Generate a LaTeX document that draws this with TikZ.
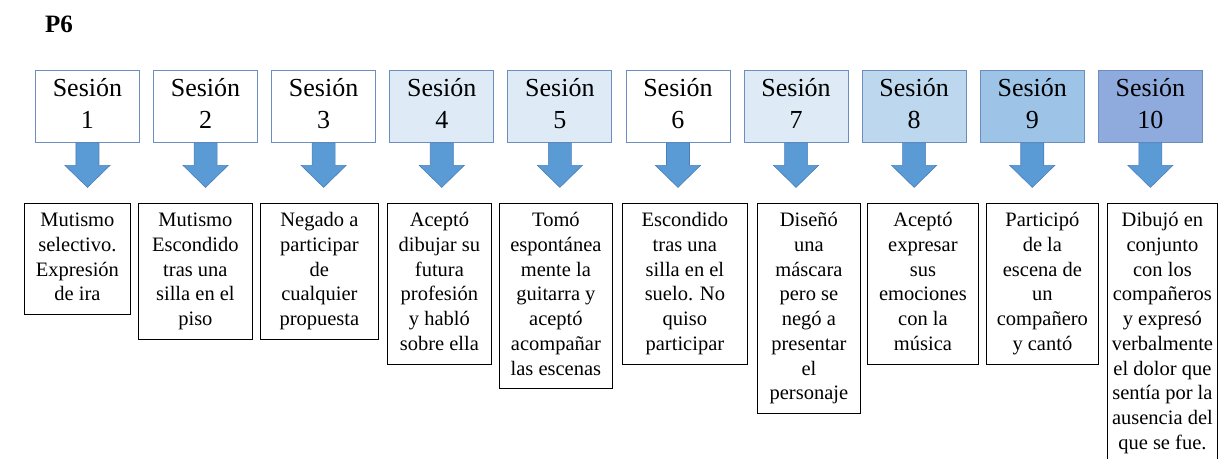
\documentclass[tikz,border=0pt]{standalone}
\usepackage{fontspec}
\setmainfont{Liberation Serif}
\usetikzlibrary{calc}
\definecolor{c0}{HTML}{FFFFFF}
\definecolor{c1}{HTML}{DEEBF7}
\definecolor{c2}{HTML}{BDD7EE}
\definecolor{c3}{HTML}{9DC3E6}
\definecolor{c4}{HTML}{8FAADC}
\definecolor{tb}{HTML}{6C8EBF}
\definecolor{af}{HTML}{5B9BD5}
\definecolor{ad}{HTML}{4A7EBB}
\tikzset{
  sesbox/.style={draw=tb, line width=0.9pt, minimum width=104pt, align=center,
    inner xsep=2pt, inner ysep=4pt, font=\fontsize{26}{32}\selectfont, anchor=north west},
  descbox/.style={draw=black, line width=0.8pt, align=center, inner xsep=2pt,
    inner ysep=6pt, font=\fontsize{20.5}{24.75}\selectfont, anchor=north west},
  barrow/.style={fill=af, draw=ad, line width=0.6pt},
  titlestyle/.style={anchor=base west, inner sep=0pt, font=\bfseries\fontsize{25}{30}\selectfont}
}
\begin{document}
\begin{tikzpicture}[x=1pt,y=-1pt]
\useasboundingbox (0,0) rectangle (1230,458);
\node[titlestyle] (title) at (45,32) {P6};
% top session boxes
\foreach \i/\c [count=\k from 0] in {1/c0,2/c0,3/c0,4/c1,5/c1,6/c0,7/c1,8/c2,9/c3,10/c4}{
  \node[sesbox, fill=\c] (t\i) at ({35+118.1*\k},69.5) {\strut Sesión\\ \i\strut};
}
% block arrows
\foreach \i in {1,...,10}{
  \draw[barrow] ($(t\i.south)+(-11.5,0.5)$) -- ++(0,22.5) -- ++(-11,0)
    -- ($(t\i.south)+(0,45)$) -- ($(t\i.south)+(22.5,23)$) -- ++(-11,0)
    -- ($(t\i.south)+(11.5,0.5)$) -- cycle;
}
% description boxes
\node[descbox, minimum width=106pt] (b1) at (24,203) {\strut Mutismo\\ selectivo.\\ Expresión\\ de ira\strut};
\node[descbox, minimum width=114pt] (b2) at (138,203) {\strut Mutismo\\ Escondido\\ tras una\\ silla en el\\ piso\strut};
\node[descbox, minimum width=118pt] (b3) at (260,203) {\strut Negado a\\ participar\\ de\\ cualquier\\ propuesta\strut};
\node[descbox, minimum width=104pt] (b4) at (387,203) {\strut Aceptó\\ dibujar su\\ futura\\ profesión\\ y habló\\ sobre ella\strut};
\node[descbox, minimum width=113pt] (b5) at (499,203) {\strut Tomó\\ espontánea\\ mente la\\ guitarra y\\ aceptó\\ acompañar\\ las escenas\strut};
\node[descbox, minimum width=125pt] (b6) at (622,203) {\strut Escondido\\ tras una\\ silla en el\\ suelo. No\\ quiso\\ participar\strut};
\node[descbox, minimum width=103pt] (b7) at (757,203) {\strut Diseñó\\ una\\ máscara\\ pero se\\ negó a\\ presentar\\ el\\ personaje\strut};
\node[descbox, minimum width=111pt] (b8) at (867,203) {\strut Aceptó\\ expresar\\ sus\\ emociones\\ con la\\ música\strut};
\node[descbox, minimum width=112pt] (b9) at (986,203) {\strut Participó\\ de la\\ escena de\\ un\\ compañero\\ y cantó\strut};
\node[descbox, minimum width=110pt] (b10) at (1107,203) {\strut Dibujó en\\ conjunto\\ con los\\ compañeros\\ y expresó\\ verbalmente\\ el dolor que\\ sentía por la\\ ausencia del\\ que se fue.\strut};
\end{tikzpicture}
\end{document}
